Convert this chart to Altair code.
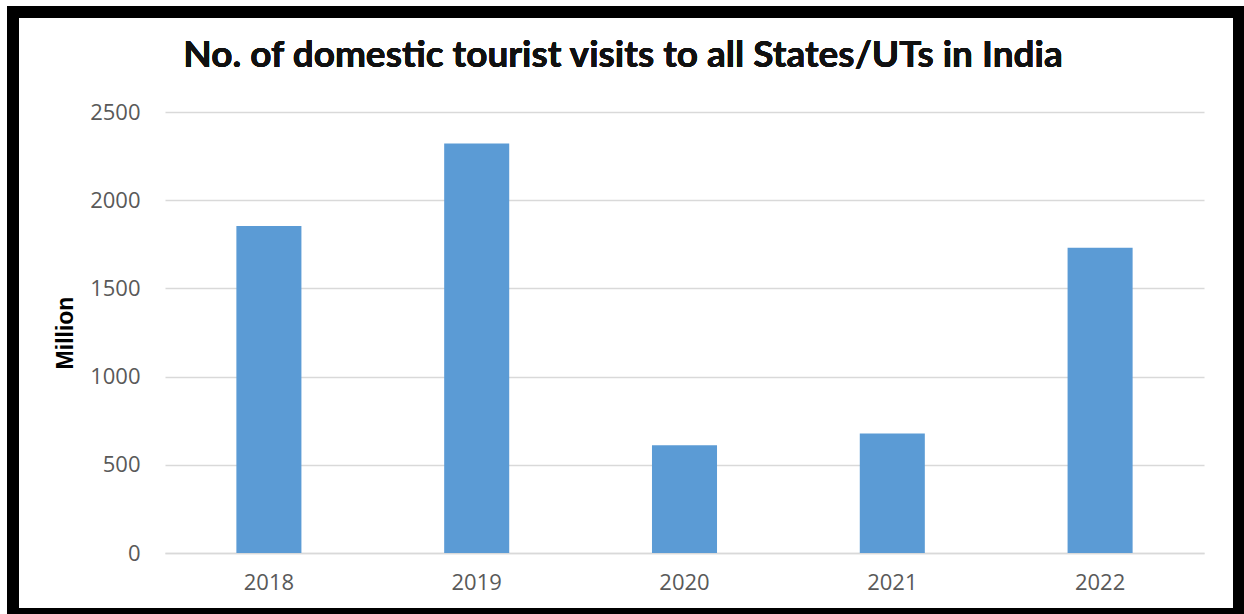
import altair as alt
import pandas as pd

years = ["2018", "2019", "2020", "2021", "2022"]
visits = [1853.79, 2321.98, 610.22, 677.63, 1731.01]
y_ticks = [0, 500, 1000, 1500, 2000, 2500]
title_text = "No. of domestic tourist visits to all States/UTs in India"
y_title = "Million"

df = pd.DataFrame({"year": years, "visits": visits})

PL, PT, PR, PB = 165, 112, 40, 61
W, H = 1244 - PL - PR, 614 - PT - PB

bars = alt.Chart(df).mark_bar(color="#5b9bd5").encode(
    x=alt.X(
        "year:N",
        sort=years,
        title=None,
        scale=alt.Scale(paddingInner=0.687, paddingOuter=0.3435),
        axis=alt.Axis(
            labelAngle=0, ticks=False, domainColor="#d9d9d9", domainWidth=1.5,
            labelFont="Open Sans", labelFontSize=22, labelColor="#595959",
            labelPadding=19,
        ),
    ),
    y=alt.Y(
        "visits:Q",
        title=y_title,
        scale=alt.Scale(domain=[0, 2500], nice=False),
        axis=alt.Axis(
            values=y_ticks, format="d", domain=False, ticks=False,
            gridColor="#d9d9d9", gridWidth=1.5,
            labelFont="Open Sans", labelFontSize=22, labelColor="#595959",
            labelPadding=25,
            titleFont="Liberation Sans", titleFontSize=23, titleFontWeight="bold",
            titleColor="#000000", titlePadding=12,
        ),
    ),
)

frame = alt.Chart(df).mark_rect(
    fill=None, stroke="black", strokeWidth=12, clip=False
).encode(
    x=alt.value(13 - PL), x2=alt.value(1239 - PL),
    y=alt.value(12 - PT), y2=alt.value(614 - PT),
)

title = alt.Chart(df).mark_text(
    font="Lato", fontSize=37, fontWeight="bold", color="#111111",
    align="center", baseline="alphabetic", clip=False,
).encode(
    x=alt.value(623 - PL), y=alt.value(67 - PT), text=alt.value(title_text),
)

chart = alt.layer(bars, frame, title).properties(
    width=W, height=H,
    padding={"left": PL, "top": PT, "right": PR, "bottom": PB},
    autosize=alt.AutoSizeParams(type="none"),
).configure(background="white").configure_view(strokeWidth=0)

chart.save("out.html", embed_options={"renderer": "svg", "actions": False})
